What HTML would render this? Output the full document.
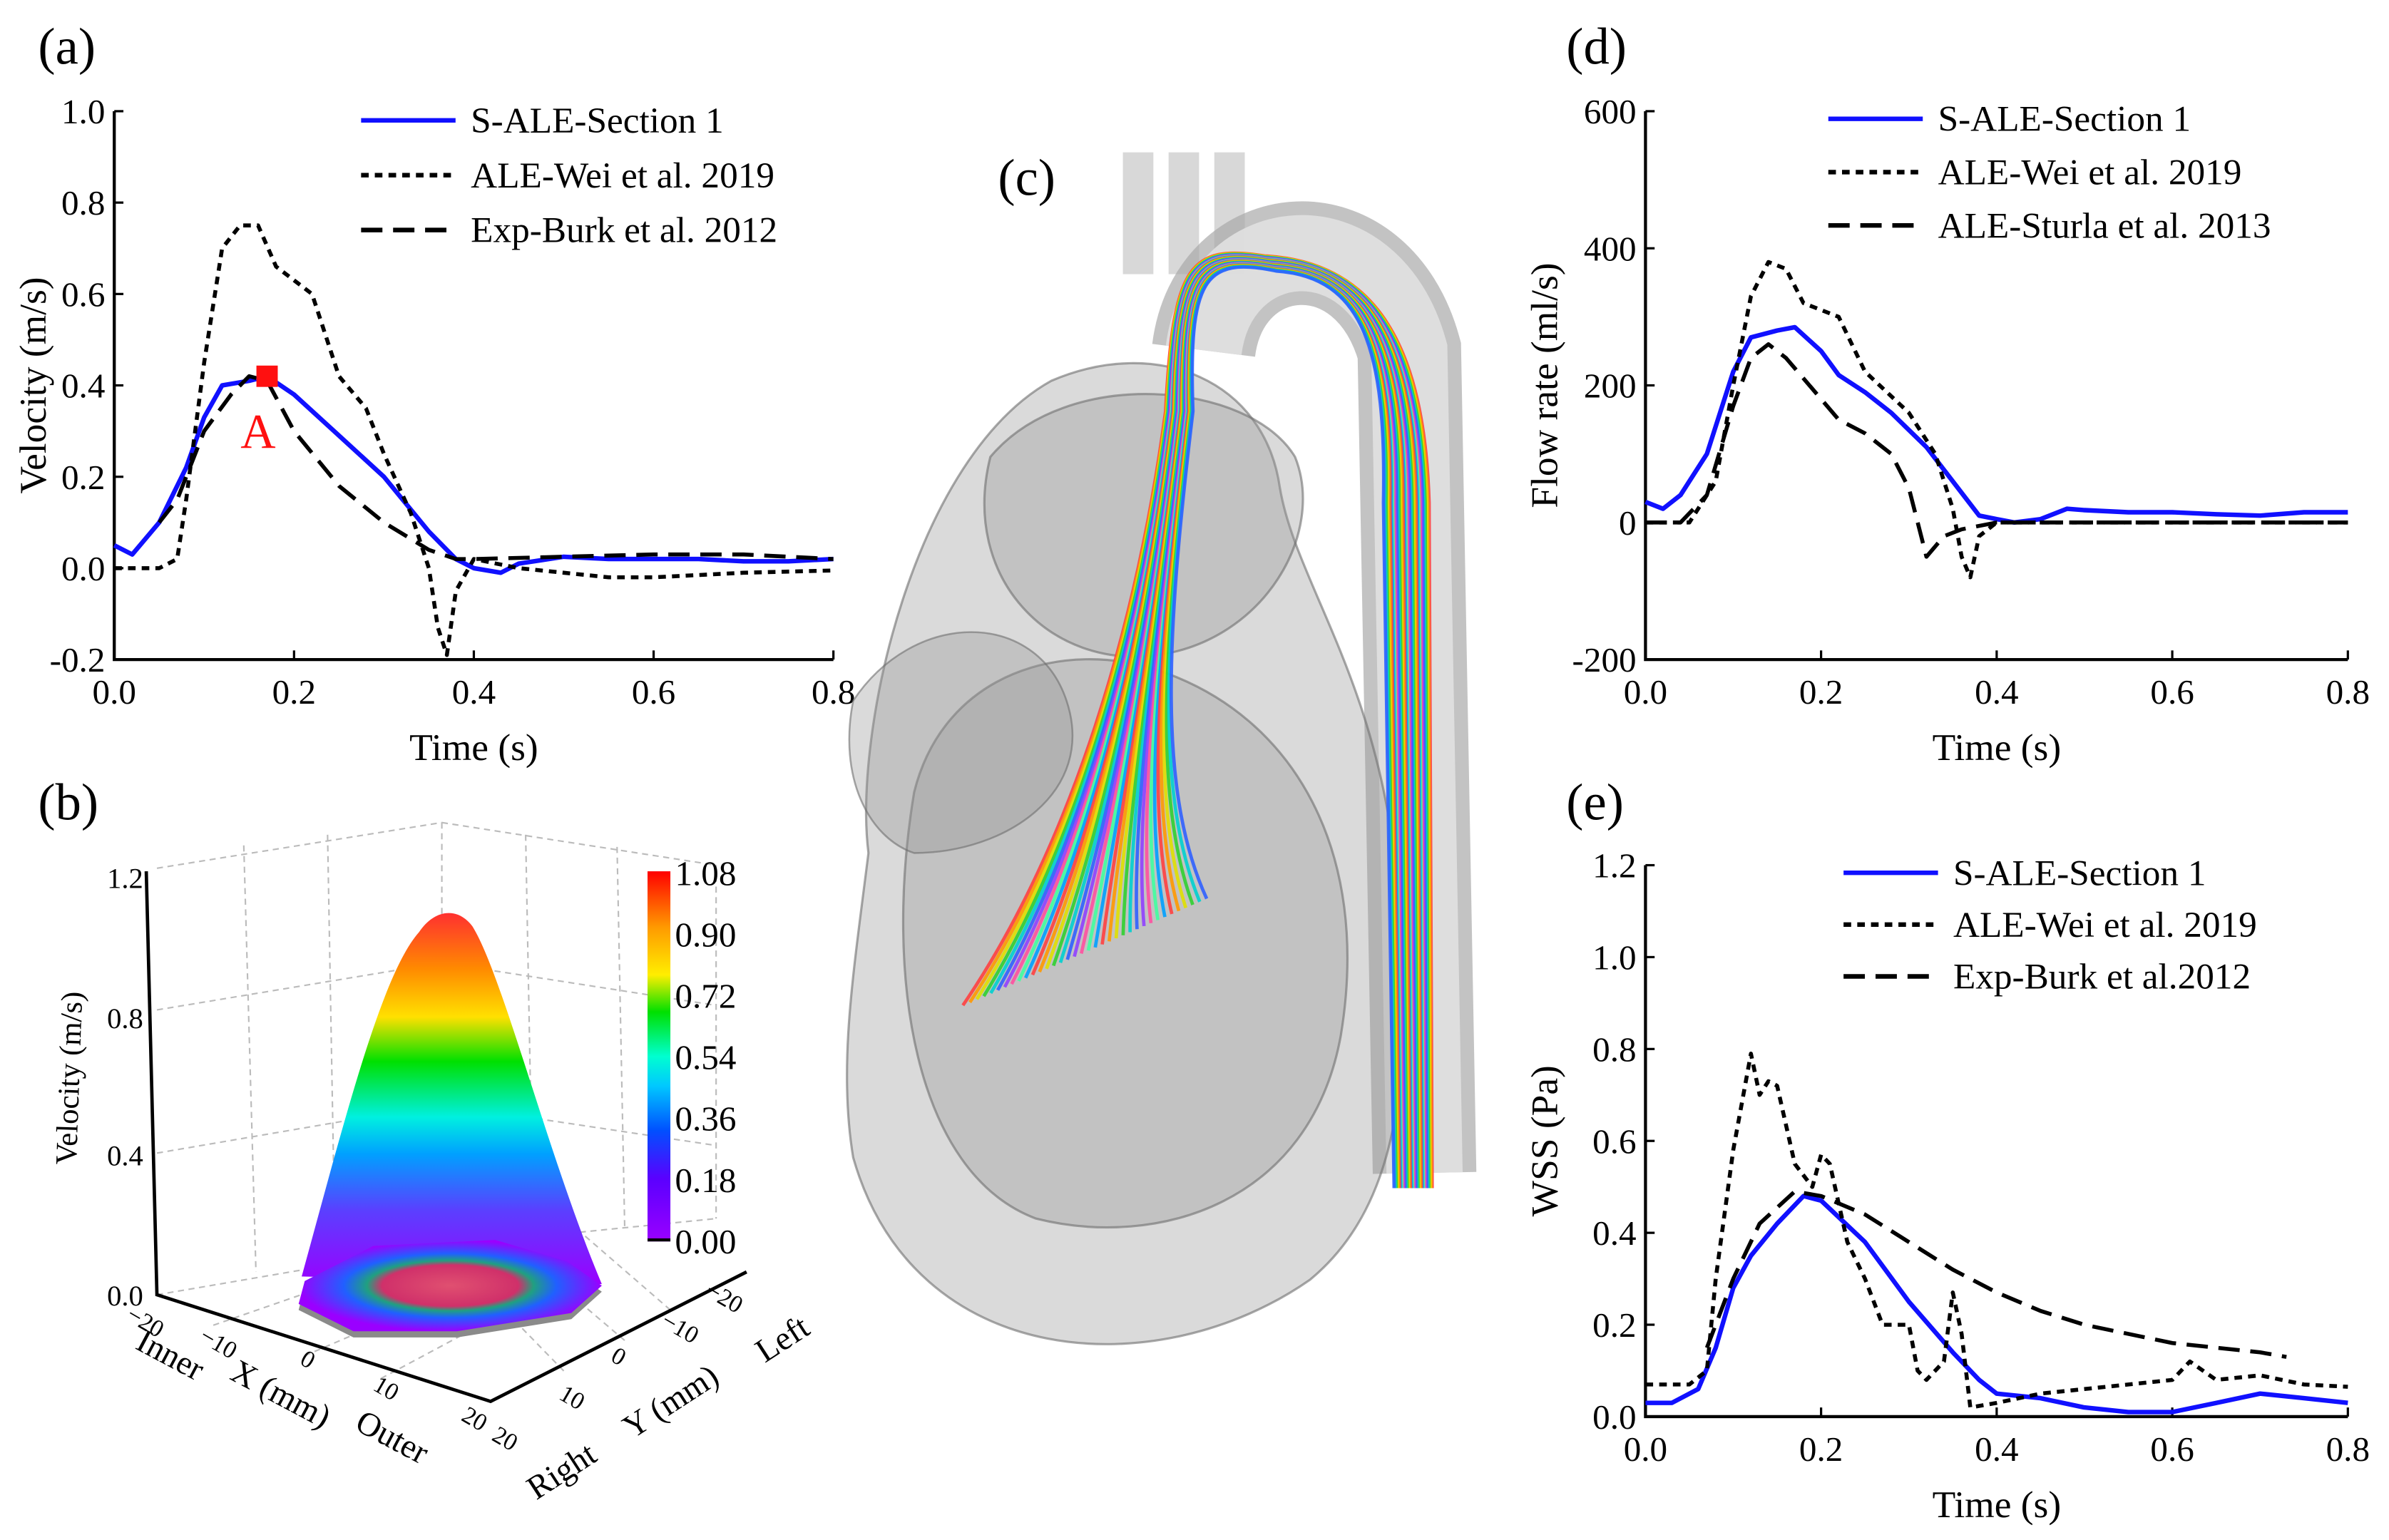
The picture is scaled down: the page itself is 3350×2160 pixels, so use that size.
<!DOCTYPE html>
<html><head><meta charset="utf-8"><style>
html,body{margin:0;padding:0;background:#fff;}
svg{display:block;font-family:"Liberation Serif",serif;}
</style></head><body>
<svg id="fig" width="3350" height="2160" viewBox="0 0 1568 1011" preserveAspectRatio="none" xmlns="http://www.w3.org/2000/svg">
<defs>
<linearGradient id="cbar" x1="0" y1="1" x2="0" y2="0">
<stop offset="0" stop-color="#9a00ff"/><stop offset="0.17" stop-color="#5a00ff"/><stop offset="0.3" stop-color="#0050ff"/><stop offset="0.42" stop-color="#00c8ff"/><stop offset="0.5" stop-color="#00ffd0"/><stop offset="0.62" stop-color="#00e000"/><stop offset="0.72" stop-color="#ffee00"/><stop offset="0.85" stop-color="#ff9900"/><stop offset="1" stop-color="#ff0000"/>
</linearGradient>
<linearGradient id="bell" x1="0" y1="1" x2="0" y2="0">
<stop offset="0" stop-color="#9a00ff"/><stop offset="0.2" stop-color="#5a40ff"/><stop offset="0.35" stop-color="#00a0ff"/><stop offset="0.45" stop-color="#00f0e0"/><stop offset="0.6" stop-color="#00e000"/><stop offset="0.72" stop-color="#ffe000"/><stop offset="0.85" stop-color="#ff8a00"/><stop offset="1" stop-color="#ff3030"/>
</linearGradient>
<radialGradient id="base" cx="0.5" cy="0.5" r="0.5">
<stop offset="0" stop-color="#e05070"/><stop offset="0.45" stop-color="#d0306a"/><stop offset="0.55" stop-color="#20a080"/><stop offset="0.7" stop-color="#2060ff"/><stop offset="1" stop-color="#9a00ff"/>
</radialGradient>
</defs>
<g id="panels"></g>
</svg>
<script>
// ---------- data ----------
const aBlueT=[0,0.02,0.05,0.08,0.1,0.12,0.15,0.17,0.2,0.25,0.3,0.35,0.38,0.4,0.43,0.45,0.5,0.55,0.6,0.65,0.7,0.75,0.8];
const aBlueV=[0.05,0.03,0.1,0.22,0.33,0.4,0.41,0.42,0.38,0.29,0.2,0.08,0.02,0.0,-0.01,0.01,0.025,0.02,0.02,0.02,0.015,0.015,0.02];
const aWeiT=[0,0.05,0.07,0.08,0.1,0.12,0.14,0.16,0.18,0.2,0.22,0.25,0.28,0.3,0.33,0.35,0.36,0.37,0.38,0.4,0.45,0.5,0.55,0.6,0.7,0.8];
const aWeiV=[0,0,0.02,0.15,0.45,0.7,0.75,0.75,0.66,0.63,0.6,0.42,0.35,0.25,0.12,0.0,-0.13,-0.19,-0.05,0.02,0.0,-0.01,-0.02,-0.02,-0.01,-0.005];
const aBurkT=[0.05,0.07,0.1,0.13,0.15,0.17,0.2,0.25,0.3,0.35,0.38,0.4,0.5,0.6,0.7,0.8];
const aBurkV=[0.1,0.15,0.3,0.38,0.42,0.41,0.3,0.18,0.1,0.04,0.02,0.02,0.025,0.03,0.03,0.02];
const dBlueT=[0,0.02,0.04,0.07,0.1,0.12,0.15,0.17,0.2,0.22,0.25,0.28,0.32,0.35,0.38,0.4,0.42,0.45,0.48,0.5,0.55,0.6,0.65,0.7,0.75,0.8];
const dBlueV=[30,20,40,100,220,270,280,285,250,215,190,160,110,60,10,5,0,5,20,18,15,15,12,10,15,15];
const dWeiT=[0,0.05,0.08,0.1,0.12,0.14,0.16,0.18,0.2,0.22,0.25,0.3,0.33,0.35,0.36,0.37,0.38,0.4,0.5,0.6,0.7,0.8];
const dWeiV=[0,0,60,200,330,380,370,320,310,300,220,160,100,20,-50,-80,-20,0,0,0,0,0];
const dSturT=[0,0.04,0.07,0.1,0.12,0.14,0.16,0.2,0.22,0.25,0.28,0.3,0.32,0.34,0.36,0.4,0.8];
const dSturV=[0,0,40,170,240,260,240,180,150,130,100,50,-50,-20,-10,0,0];
const eBlueT=[0,0.03,0.06,0.08,0.1,0.12,0.15,0.18,0.2,0.25,0.3,0.35,0.38,0.4,0.45,0.5,0.55,0.6,0.65,0.7,0.75,0.8];
const eBlueV=[0.03,0.03,0.06,0.15,0.28,0.35,0.42,0.48,0.47,0.38,0.25,0.14,0.08,0.05,0.04,0.02,0.01,0.01,0.03,0.05,0.04,0.03];
const eWeiT=[0,0.05,0.07,0.08,0.1,0.12,0.13,0.14,0.15,0.17,0.19,0.2,0.21,0.23,0.25,0.27,0.3,0.31,0.32,0.34,0.35,0.36,0.37,0.4,0.45,0.5,0.55,0.6,0.62,0.65,0.7,0.75,0.8];
const eWeiV=[0.07,0.07,0.1,0.3,0.58,0.79,0.7,0.73,0.72,0.55,0.5,0.57,0.55,0.38,0.3,0.2,0.2,0.1,0.08,0.12,0.27,0.18,0.02,0.03,0.05,0.06,0.07,0.08,0.12,0.08,0.09,0.07,0.065];
const eBurkT=[0.07,0.1,0.13,0.17,0.2,0.25,0.3,0.35,0.4,0.45,0.5,0.6,0.7,0.73];
const eBurkV=[0.15,0.3,0.42,0.49,0.48,0.44,0.38,0.32,0.27,0.23,0.2,0.16,0.14,0.13];
const xTicks=[0,0.2,0.4,0.6,0.8];
const aYTicks=[-0.2,0,0.2,0.4,0.6,0.8,1.0];
const dYTicks=[-200,0,200,400,600];
const eYTicks=[0,0.2,0.4,0.6,0.8,1.0,1.2];
const cbarLabels=["1.08","0.90","0.72","0.54","0.36","0.18","0.00"];

const NS="http://www.w3.org/2000/svg";
const root=document.getElementById('panels');
function mk(tag,attrs,parent,text){const e=document.createElementNS(NS,tag);for(const k in attrs)e.setAttribute(k,attrs[k]);if(text!==undefined)e.textContent=text;(parent||root).appendChild(e);return e;}

function chart(cfg){
  const g=mk('g',{});
  
  
  const sx=v=>cfg.x0+(v-cfg.xmin)/(cfg.xmax-cfg.xmin)*(cfg.x1-cfg.x0);
  const sy=v=>cfg.y1-(v-cfg.ymin)/(cfg.ymax-cfg.ymin)*(cfg.y1-cfg.y0);
  const ax=mk('path',{d:`M${cfg.x0},${cfg.y0}V${cfg.y1}H${cfg.x1}`,fill:'none',stroke:'#000','stroke-width':2},g);
  
  
  xTicks.forEach(t=>{const x=sx(t);mk('line',{x1:x,x2:x,y1:cfg.y1,y2:cfg.y1-6,stroke:'#000','stroke-width':1.5},g);
    const tl=mk('text',{x:x,y:cfg.y1+29,'font-size':23,'text-anchor':'middle'},g,t.toFixed(1));
    
    });
  cfg.yt.forEach(t=>{const y=sy(t);mk('line',{x1:cfg.x0,x2:cfg.x0+6,y1:y,y2:y,stroke:'#000','stroke-width':1.5},g);
    const tl=mk('text',{x:cfg.x0-6,y:y+8,'font-size':23,'text-anchor':'end'},g,cfg.fmt(t));
    
    });
  const xt=mk('text',{x:(cfg.x0+cfg.x1)/2,y:cfg.y1+66,'font-size':25,'text-anchor':'middle'},g,'Time (s)');
  
  
  const yc=(cfg.y0+cfg.y1)/2;
  const yt=mk('text',{x:cfg.ytx,y:yc,'font-size':25,'text-anchor':'middle',transform:`rotate(-90 ${cfg.ytx} ${yc})`},g,cfg.ytitle);
  
  
  cfg.series.forEach((s,i)=>{
    const d=s.t.map((t,j)=>(j?'L':'M')+sx(t).toFixed(1)+','+sy(s.v[j]).toFixed(1)).join('');
    const p=mk('path',{d:d,fill:'none',stroke:s.c,'stroke-width':s.c=='#000'?2.6:3,'stroke-dasharray':s.dash||'none','stroke-linejoin':'round'},g);
    
    
    const ly=cfg.ly+i*cfg.lg;
    const ll=mk('line',{x1:cfg.lx,x2:cfg.lx+62,y1:ly,y2:ly,stroke:s.c,'stroke-width':3,'stroke-dasharray':s.dash||'none'},g);
    
    
    const lt=mk('text',{x:cfg.lx+72,y:ly+8,'font-size':24},g,s.label);
    
    
  });
  return {sx,sy,g};
}
const f1=t=>t.toFixed(1), f0=t=>String(t);
const A=chart({name:'panel-a-velocity-chart',x0:75,x1:547,y0:73,y1:433,xmin:0,xmax:0.8,ymin:-0.2,ymax:1.0,yt:aYTicks,fmt:f1,ytitle:'Velocity (m/s)',ytx:30,lx:237,ly:79,lg:36,
 series:[{key:'s-ale',t:aBlueT,v:aBlueV,c:'#1010ff',label:'S-ALE-Section 1'},{key:'ale-wei',t:aWeiT,v:aWeiV,c:'#000',dash:'5,4',label:'ALE-Wei et al. 2019'},{key:'exp-burk',t:aBurkT,v:aBurkV,c:'#000',dash:'14,7',label:'Exp-Burk et al. 2012'}]});
const pa=mk('rect',{x:A.sx(0.17)-7,y:A.sy(0.42)-7,width:14,height:14,fill:'#ff1010'},A.g);


const pat=mk('text',{x:A.sx(0.16),y:A.sy(0.42)+47,'font-size':32,fill:'#ff1010','text-anchor':'middle'},A.g,'A');


chart({name:'panel-d-flow-rate-chart',x0:1080,x1:1541,y0:73,y1:433,xmin:0,xmax:0.8,ymin:-200,ymax:600,yt:dYTicks,fmt:f0,ytitle:'Flow rate (ml/s)',ytx:1022,lx:1200,ly:78,lg:35,
 series:[{key:'s-ale',t:dBlueT,v:dBlueV,c:'#1010ff',label:'S-ALE-Section 1'},{key:'ale-wei',t:dWeiT,v:dWeiV,c:'#000',dash:'5,4',label:'ALE-Wei et al. 2019'},{key:'ale-sturla',t:dSturT,v:dSturV,c:'#000',dash:'14,7',label:'ALE-Sturla et al. 2013'}]});
chart({name:'panel-e-wss-chart',x0:1080,x1:1541,y0:568,y1:930,xmin:0,xmax:0.8,ymin:0,ymax:1.2,yt:eYTicks,fmt:f1,ytitle:'WSS (Pa)',ytx:1022,lx:1210,ly:573,lg:34,
 series:[{key:'s-ale',t:eBlueT,v:eBlueV,c:'#1010ff',label:'S-ALE-Section 1'},{key:'ale-wei',t:eWeiT,v:eWeiV,c:'#000',dash:'5,4',label:'ALE-Wei et al. 2019'},{key:'exp-burk',t:eBurkT,v:eBurkV,c:'#000',dash:'14,7',label:'Exp-Burk et al.2012'}]});

// panel labels
[['(a)',25,42],['(b)',25,538],['(c)',655,128],['(d)',1028,42],['(e)',1028,538]].forEach(l=>{
  const t=mk('text',{x:l[1],y:l[2],'font-size':34},root,l[0]);
  
  
});

// ---------- panel b (3D surface) ----------
const gb=mk('g',{});


const grid='#bbb';
[[103,850,290,818],[290,818,470,800],[103,570,290,540],[290,540,470,568],[290,540,290,818],[470,568,470,800],
 [160,555,168,835],[215,548,220,825],[345,548,350,812],[405,556,410,805],
 [103,757,290,725],[103,663,290,632],[290,725,470,752],[290,632,470,660],
 [140,870,290,818],[200,890,340,830],[250,905,390,830],[370,900,290,818],[410,880,330,812],[440,860,380,808]].forEach(s=>{
  mk('line',{x1:s[0],y1:s[1],x2:s[2],y2:s[3],stroke:grid,'stroke-width':1,'stroke-dasharray':'4,3'},gb);});
const bell=mk('path',{d:'M198,838 C225,740 250,640 275,612 C285,597 300,595 310,608 C330,640 360,760 395,843 Z',fill:'url(#bell)'},gb);


mk('path',{d:'M196,860 L200,845 L245,822 L325,818 L372,832 L395,848 L375,866 L300,878 L232,878 Z',fill:'#8a8a8a'},gb);
const basep=mk('path',{d:'M196,856 L200,841 L245,818 L325,814 L372,828 L395,844 L375,862 L300,874 L232,874 Z',fill:'url(#base)'},gb);


mk('path',{d:'M96,572 L103,850 L322,920 L490,835',fill:'none',stroke:'#000','stroke-width':2.2},gb);
[['1.2',576],['0.8',668],['0.4',758],['0.0',850]].forEach(t=>{mk('text',{x:94,y:t[1]+7,'font-size':19,'text-anchor':'end'},gb,t[0]);});
const vb=mk('text',{x:52,y:708,'font-size':20,'text-anchor':'middle',transform:'rotate(-88 52 708)'},gb,'Velocity (m/s)');


[['−20',82,866],['−10',130,880],['0',196,895],['10',244,912],['20',302,932]].forEach(t=>{mk('text',{x:t[1],y:t[2],'font-size':16,transform:`rotate(30 ${t[1]} ${t[2]})`},gb,t[0]);});
[['20',322,945],['10',366,918],['0',400,893],['−10',433,870],['−20',462,850]].forEach(t=>{mk('text',{x:t[1],y:t[2],'font-size':16,transform:`rotate(30 ${t[1]} ${t[2]})`},gb,t[0]);});
[['Inner',88,885,28],['X (mm)',150,905,28],['Outer',232,938,28],['Right',352,985,-33],['Y (mm)',415,945,-33],['Left',502,895,-33]].forEach(t=>{
  const e=mk('text',{x:t[1],y:t[2],'font-size':22,transform:`rotate(${t[3]} ${t[1]} ${t[2]})`},gb,t[0]);
  
  });
const cb=mk('rect',{x:425,y:572,width:15,height:243,fill:'url(#cbar)'},gb);


mk('rect',{x:425,y:813,width:15,height:2,fill:'#000'},gb);
cbarLabels.forEach((l,i)=>{const t=mk('text',{x:443,y:581+i*40.3,'font-size':23},gb,l);
  
  });

// ---------- panel c (heart with streamlines) ----------
const gc=mk('g',{});


const gray='rgba(150,150,150,0.35)', edge='rgba(110,110,110,0.6)';
[745,775,805].forEach(x=>mk('rect',{x:x-8,y:100,width:20,height:80,fill:'rgba(200,200,200,0.7)'},gc));
mk('path',{d:'M790,230 C800,150 900,140 925,230 L935,770',fill:'none',stroke:'rgba(170,170,170,0.7)','stroke-width':68},gc);
mk('path',{d:'M790,230 C800,150 900,140 925,230 L935,770',fill:'none',stroke:'rgba(225,225,225,0.9)','stroke-width':50},gc);
mk('path',{d:'M690,250 C600,300 560,480 570,560 C560,640 550,700 560,760 C600,900 760,910 860,840 C920,790 930,700 915,560 C900,440 850,380 840,320 C830,250 760,220 690,250 Z',fill:gray,stroke:edge,'stroke-width':1.5},gc);
mk('path',{d:'M600,520 C620,440 700,420 760,440 C850,470 900,560 880,680 C860,790 760,820 680,800 C600,770 580,640 600,520 Z',fill:gray,stroke:edge,'stroke-width':1.5},gc);
mk('path',{d:'M650,300 C700,240 820,250 850,300 C870,350 830,420 760,430 C690,440 630,380 650,300 Z',fill:gray,stroke:edge,'stroke-width':1.5},gc);
mk('path',{d:'M560,460 C600,400 680,400 700,460 C720,520 660,560 600,560 C570,550 550,510 560,460 Z',fill:gray,stroke:edge,'stroke-width':1.2},gc);
const cols=['#ff4040','#ff9900','#e0e000','#30d030','#00d0d0','#3060ff','#9040ff','#ff50a0','#40ffa0','#00a0ff'];
for(let i=0;i<36;i++){
  const o=i/35, c=cols[i%cols.length];
  const x0=632+o*160, y0=660-o*70;
  const d=`M${x0},${y0} C${700+o*60},${560-o*40} ${745+o*20},${420} ${765+o*18},${270} C${770+o*10},${175+o*8} ${780+o*10},${160+o*8} ${830+o*8},${168+o*10} C${905-o*10},${172+o*10} ${935-o*25},${230} ${938-o*30},${330} L${940-o*25},${780}`;
  const p=mk('path',{d:d,fill:'none',stroke:c,'stroke-width':2.2,opacity:0.9},gc);
  
  
}
</script>
</body></html>
